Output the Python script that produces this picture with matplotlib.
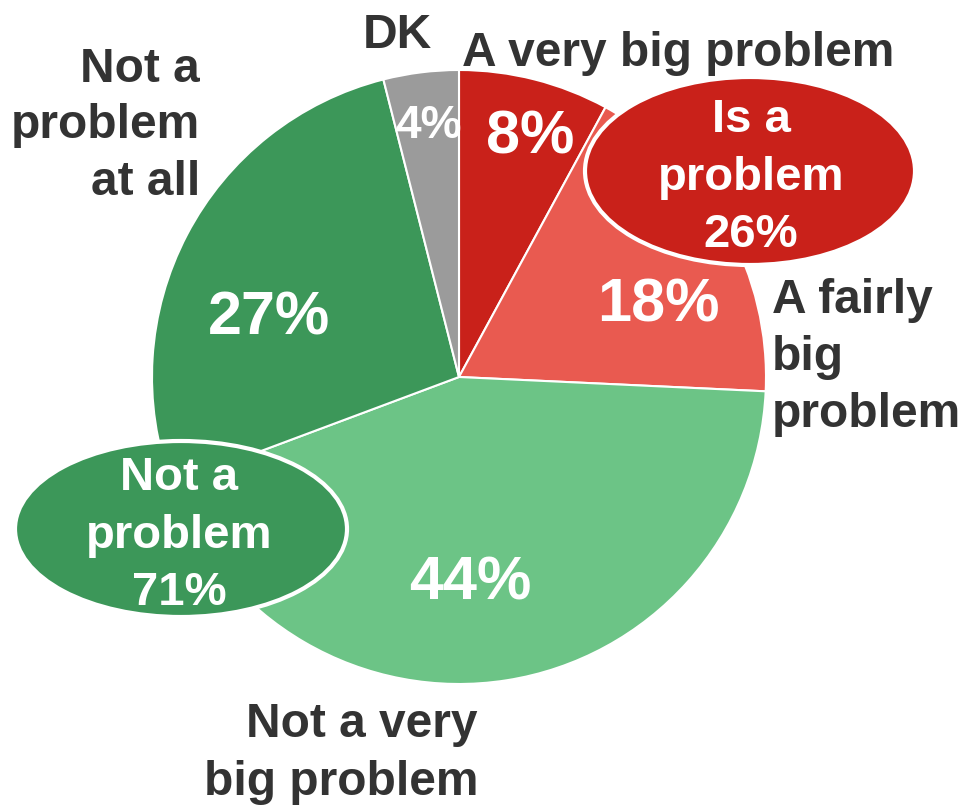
import matplotlib.pyplot as plt
from matplotlib.patches import Ellipse

plt.rcParams['font.family'] = ['Liberation Sans', 'DejaVu Sans']

# data
categories = ['A very big problem', 'A fairly big problem', 'Not a very big problem',
              'Not a problem at all', 'DK']
values = [8, 18, 44, 27, 4]
pct_labels = ['8%', '18%', '44%', '27%', '4%']
colors = ['#C9211A', '#E95A50', '#6CC486', '#3C9759', '#9B9B9B']
group_labels = ['Is a\nproblem\n26%', 'Not a\nproblem\n71%']
group_colors = ['#C9211A', '#3C9759']

W, H = 961, 805
dark = '#333333'
lab_size = 34.5

fig = plt.figure(figsize=(W / 100, H / 100), dpi=100)
ax = fig.add_axes([0, 0, 1, 1])
ax.axis('off')


def put(text, x, y, size, color, ha='center', gap=57, z=4):
    # y = baseline of first line, in pixel coords from top
    for i, line in enumerate(text.split('\n')):
        ax.text(x, H - (y + i * gap), line, fontsize=size, fontweight='bold',
                color=color, ha=ha, va='baseline', zorder=z)


ax.pie(values, colors=colors, startangle=90, counterclock=False,
       center=(459, H - 377), radius=307,
       wedgeprops=dict(edgecolor='white', linewidth=1.5))
ax.set_xlim(0, W)
ax.set_ylim(0, H)
ax.set_aspect('equal')

# percentages inside slices
pct_pos = [(530, 153, 44), (658, 322, 44), (470, 600, 44), (269, 335, 44), (428, 138, 33)]
for t, (x, y, s) in zip(pct_labels, pct_pos):
    put(t, x, y, s, 'white')

# category labels outside
put(categories[0], 462, 66, lab_size, dark, ha='left')
put('A fairly\nbig\nproblem', 772, 313, lab_size, dark, ha='left')
put('Not a very\nbig problem', 478, 737, lab_size, dark, ha='right', gap=58)
put('Not a\nproblem\nat all', 200, 82, lab_size, dark, ha='right', gap=56.5)
put(categories[4], 397, 48, lab_size, dark)

# summary ellipses
ell_pos = [(750, 171, 330, 188), (181, 529, 332, 176)]
txt_pos = [(751, 132), (179, 490)]
for lab, c, (x, y, w, h), (tx, ty) in zip(group_labels, group_colors, ell_pos, txt_pos):
    ax.add_patch(Ellipse((x, H - y), w, h, facecolor=c, edgecolor='white', linewidth=3, zorder=3))
    put(lab, tx, ty, 34, 'white', gap=57.5)

fig.savefig('out.png', dpi=100)
